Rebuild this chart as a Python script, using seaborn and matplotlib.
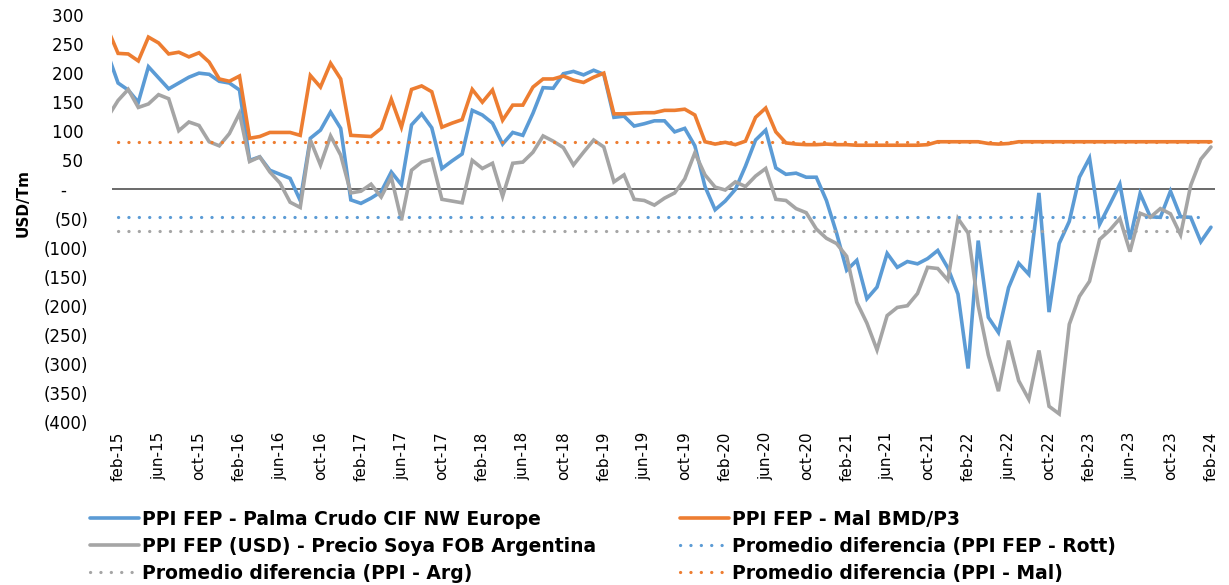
import numpy as np
import pandas as pd
import matplotlib
matplotlib.use("Agg")
import matplotlib.pyplot as plt
import seaborn as sns
from matplotlib.lines import Line2D

# monthly differences USD/Tm, ene-15 .. feb-24 (ene-15 only partly visible)
palma_rott = [232, 183, 171, 150, 211, 192, 173, 183, 193, 200,
              198, 186, 183, 171, 50, 56, 33, 26, 19, -19,
              88, 102, 133, 105, -18, -24, -15, -4, 30, 8,
              111, 130, 106, 36, 49, 61, 136, 128, 114, 78,
              98, 93, 131, 175, 174, 199, 203, 197, 205, 198,
              124, 126, 109, 113, 118, 118, 99, 105, 75, 5,
              -35, -20, 0, 40, 85, 102, 37, 26, 28, 21,
              21, -19, -75, -139, -122, -188, -168, -110, -134, -124,
              -128, -119, -105, -135, -180, -308, -88, -220, -246, -169,
              -127, -146, -6, -211, -93, -55, 21, 54, -60, -26,
              9, -86, -7, -47, -48, -3, -47, -48, -90, -65]

mal_bmd = [275, 234, 233, 221, 262, 252, 233, 236, 228, 235,
           219, 190, 186, 195, 88, 91, 98, 98, 98, 93,
           196, 176, 217, 190, 93, 92, 91, 105, 155, 107,
           172, 178, 168, 107, 114, 120, 172, 150, 171, 119,
           145, 145, 176, 190, 190, 195, 188, 184, 193, 200,
           130, 130, 131, 132, 132, 136, 136, 138, 128, 82,
           78, 81, 77, 83, 124, 140, 99, 80, 78, 77,
           77, 78, 77, 77, 76, 76, 76, 76, 76, 76,
           76, 77, 82, 82, 82, 82, 82, 79, 78, 79,
           82, 82, 82, 82, 82, 82, 82, 82, 82, 82,
           82, 82, 82, 82, 82, 82, 82, 82, 82, 82]

soya_arg = [125, 153, 172, 141, 147, 163, 156, 101, 116, 110,
            82, 75, 96, 131, 48, 56, 30, 11, -22, -31,
            85, 42, 92, 59, -6, -3, 9, -13, 21, -53,
            33, 47, 52, -17, -20, -23, 50, 36, 45, -12,
            45, 47, 64, 92, 83, 72, 42, 64, 85, 73,
            13, 25, -17, -19, -27, -15, -6, 18, 63, 25,
            4, -1, 13, 5, 23, 36, -17, -19, -33, -40,
            -68, -84, -93, -115, -194, -230, -276, -217, -203, -200,
            -179, -134, -136, -156, -50, -75, -200, -285, -347, -260,
            -329, -361, -277, -373, -386, -232, -184, -158, -86, -70,
            -50, -107, -41, -48, -33, -42, -78, 7, 52, 73]

# averages and the months they cover (index 1 = feb-15)
prom_rott, prom_rott_end = -47, 108
prom_arg, prom_arg_end = -71, 107
prom_mal, prom_mal_end = 82, 109
prom_start = 1

tick_labels = ["feb-15", "jun-15", "oct-15", "feb-16", "jun-16", "oct-16", "feb-17",
               "jun-17", "oct-17", "feb-18", "jun-18", "oct-18", "feb-19", "jun-19",
               "oct-19", "feb-20", "jun-20", "oct-20", "feb-21", "jun-21", "oct-21",
               "feb-22", "jun-22", "oct-22", "feb-23", "jun-23", "oct-23", "feb-24"]

names = ["PPI FEP - Palma Crudo CIF NW Europe",
         "PPI FEP - Mal BMD/P3",
         "PPI FEP (USD) - Precio Soya FOB Argentina",
         "Promedio diferencia (PPI FEP - Rott)",
         "Promedio diferencia (PPI - Arg)",
         "Promedio diferencia (PPI - Mal)"]

BLUE, ORANGE, GREY = "#5B9BD5", "#ED7D31", "#A5A5A5"

df = pd.DataFrame({"mes": np.arange(len(palma_rott)),
                   "rott": palma_rott, "mal": mal_bmd, "arg": soya_arg})


def prom_frame(value, end):
    meses = np.arange(prom_start, end + 1)
    return pd.DataFrame({"mes": meses, "v": [value] * len(meses)})


sns.set_style("white")
plt.rcParams["font.family"] = ["DejaVu Sans"]
plt.rcParams["text.color"] = "black"
plt.rcParams["axes.labelcolor"] = "black"
plt.rcParams["xtick.color"] = "black"
plt.rcParams["ytick.color"] = "black"

fig = plt.figure(figsize=(12.29, 5.85), dpi=100)
ax = fig.add_axes([112 / 1229, 1 - 422 / 585, (1215 - 112) / 1229, (422 - 15) / 585])

ax.axhline(0, color="#505050", lw=1.2, zorder=1)

solid = dict(lw=2.6, solid_joinstyle="miter")
sns.lineplot(data=df, x="mes", y="rott", color=BLUE, ax=ax, **solid)
sns.lineplot(data=df, x="mes", y="mal", color=ORANGE, ax=ax, **solid)
sns.lineplot(data=df, x="mes", y="arg", color=GREY, ax=ax, **solid)

dots = dict(lw=2.3, linestyle=(0, (0.05, 3.2)), dash_capstyle="round")
for val, end, col in [(prom_rott, prom_rott_end, BLUE),
                      (prom_arg, prom_arg_end, GREY),
                      (prom_mal, prom_mal_end, ORANGE)]:
    sns.lineplot(data=prom_frame(val, end), x="mes", y="v", color=col, ax=ax, **dots)

ax.set_xlim(0.4, 109.4)
ax.set_ylim(-400, 300)


def acct(v):
    if v > 0:
        return f"{v} "
    if v == 0:
        return "-\u2007\u2007"
    return f"({-v})"


yt = list(range(-400, 301, 50))
ax.set_yticks(yt)
ax.set_yticklabels([acct(v) for v in yt], fontsize=12)
ax.set_xticks(list(range(1, 110, 4)))
ax.set_xticklabels(tick_labels, rotation=90, fontsize=11)
ax.tick_params(axis="y", length=0, pad=17)
ax.tick_params(axis="x", length=0, pad=7)
for s in ax.spines.values():
    s.set_visible(False)
ax.set_xlabel("")
ax.set_ylabel("USD/Tm", fontsize=11, fontweight="bold")
ax.yaxis.set_label_coords(-0.074, 0.538)

if ax.get_legend():
    ax.get_legend().remove()

h_solid = [Line2D([], [], color=c, lw=2.6) for c in (BLUE, ORANGE, GREY)]
h_dot = [Line2D([], [], color=c, **dots) for c in (BLUE, GREY, ORANGE)]

leg_font = {"family": "DejaVu Sans", "weight": "bold", "size": 13.5}
leg_kw = dict(loc="upper left", frameon=False, borderpad=0, borderaxespad=0,
              handlelength=2.6, handletextpad=0.2, labelspacing=0.42, prop=leg_font)
fig.legend([h_solid[0], h_solid[2], h_dot[1]], [names[0], names[2], names[4]],
           bbox_to_anchor=(90 / 1229, 1 - 510 / 585), **leg_kw)
fig.legend([h_solid[1], h_dot[0], h_dot[2]], [names[1], names[3], names[5]],
           bbox_to_anchor=(680 / 1229, 1 - 510 / 585), **leg_kw)

fig.savefig("out.png", dpi=100)
plt.close(fig)
